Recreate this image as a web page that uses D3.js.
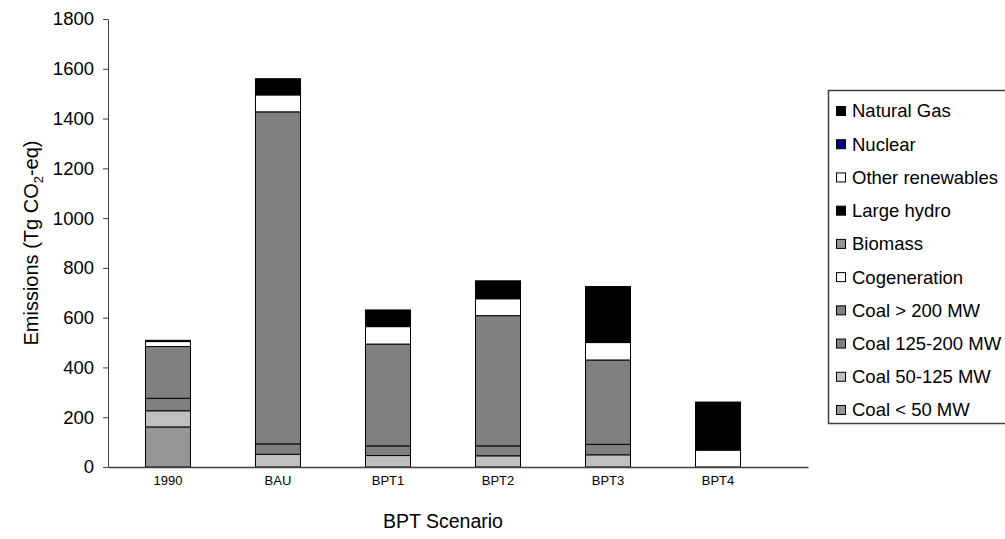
<!DOCTYPE html>
<html>
<head>
<meta charset="utf-8">
<script src="https://cdn.jsdelivr.net/npm/d3@7"></script>
<style>
  html, body { margin: 0; padding: 0; background: #fff; }
  svg { display: block; font-family: "Liberation Sans", Arial, sans-serif; }
</style>
</head>
<body>
<svg id="chart" width="1005" height="539"></svg>
<script>
// Scenario categories along the x axis
const categories = ["1990", "BAU", "BPT1", "BPT2", "BPT3", "BPT4"];

// Emissions by source (Tg CO2-eq), one value per scenario
const coalUnder50     = [161, 0, 0, 0, 0, 0];
const coal50to125     = [65, 51, 46, 45, 49, 0];
const coal125to200    = [50, 42, 39, 40, 42, 0];
const coalOver200     = [208, 1334, 409, 523, 339, 0];
const cogeneration    = [20, 68, 70, 68, 70, 68];
const biomass         = [0, 0, 0, 0, 0, 0];
const largeHydro      = [0, 0, 0, 0, 0, 0];
const otherRenewables = [0, 0, 0, 0, 0, 0];
const nuclear         = [0, 0, 0, 0, 0, 0];
const naturalGas      = [5, 65, 67, 72, 225, 193];

const yTicks = [0, 200, 400, 600, 800, 1000, 1200, 1400, 1600, 1800];

// Series in stacking order (bottom to top)
const series = [
  { name: "Coal < 50 MW",     values: coalUnder50,     color: "#969696" },
  { name: "Coal 50-125 MW",   values: coal50to125,     color: "#c0c0c0" },
  { name: "Coal 125-200 MW",  values: coal125to200,    color: "#808080" },
  { name: "Coal > 200 MW",    values: coalOver200,     color: "#808080" },
  { name: "Cogeneration",     values: cogeneration,    color: "#ffffff" },
  { name: "Biomass",          values: biomass,         color: "#969696" },
  { name: "Large hydro",      values: largeHydro,      color: "#000000" },
  { name: "Other renewables", values: otherRenewables, color: "#ffffff" },
  { name: "Nuclear",          values: nuclear,         color: "#000080" },
  { name: "Natural Gas",      values: naturalGas,      color: "#000000" }
];

const table = categories.map((c, i) => {
  const row = { category: c };
  series.forEach(s => { row[s.name] = s.values[i]; });
  return row;
});

const svg = d3.select("#chart");
const FONT = "'Liberation Sans', Arial, sans-serif";

const x = d3.scaleBand()
  .domain(categories)
  .range([108, 808])
  .paddingInner(0.591)
  .paddingOuter(0.477)
  .align(0.357);

const y = d3.scaleLinear()
  .domain([0, 1800])
  .range([467, 19]);

const stack = d3.stack().keys(series.map(s => s.name));
const layers = stack(table);

// Stacked bars
const g = svg.append("g");
layers.forEach((layer, li) => {
  g.selectAll(null)
    .data(layer.filter(d => d[1] - d[0] > 0))
    .enter().append("rect")
    .attr("x", d => x(d.data.category))
    .attr("width", x.bandwidth())
    .attr("y", d => y(d[1]))
    .attr("height", d => y(d[0]) - y(d[1]))
    .attr("fill", series[li].color)
    .attr("stroke", "#000")
    .attr("stroke-width", 1);
});

// Y axis
const yAxis = d3.axisLeft(y).tickValues(yTicks).tickFormat(d3.format("d"))
  .tickSize(5).tickPadding(9).tickSizeOuter(0);
const yg = svg.append("g").attr("transform", "translate(108,0)").call(yAxis);
yg.select(".domain").attr("stroke", "#404040");
yg.selectAll(".tick line").attr("stroke", "#404040");
yg.selectAll(".tick text").attr("font-size", 18.5).attr("fill", "#000")
  .attr("font-family", FONT);

// X axis
const xAxis = d3.axisBottom(x).tickSize(0).tickPadding(9).tickSizeOuter(0);
const xg = svg.append("g").attr("transform", "translate(0,467)").call(xAxis);
xg.select(".domain").attr("stroke", "#404040").attr("stroke-width", 1.5);
xg.selectAll(".tick text").attr("font-size", 13).attr("fill", "#000")
  .attr("font-family", FONT);

// Axis titles
svg.append("text")
  .attr("x", (x(categories[0]) + x(categories[categories.length - 1]) + x.bandwidth()) / 2)
  .attr("y", 528)
  .attr("text-anchor", "middle")
  .attr("font-size", 19.5)
  .text("BPT Scenario");

const yTitle = svg.append("text")
  .attr("transform", `translate(38,${(y(0) + y(1800)) / 2}) rotate(-90)`)
  .attr("text-anchor", "middle")
  .attr("font-size", 20);
yTitle.append("tspan").text("Emissions (Tg CO");
yTitle.append("tspan").attr("font-size", 13).attr("dy", 5).text("2");
yTitle.append("tspan").attr("dy", -5).text("-eq)");

// Legend (top entry is the last series)
const legend = svg.append("g");
legend.append("rect")
  .attr("x", 828.5).attr("y", 90.5)
  .attr("width", 190).attr("height", 333)
  .attr("fill", "#fff").attr("stroke", "#404040").attr("stroke-width", 1.5);

const legendItems = series.slice().reverse();
const ly = d3.scalePoint().domain(legendItems.map(s => s.name)).range([111, 410]);
legendItems.forEach(s => {
  const cy = ly(s.name);
  legend.append("rect")
    .attr("x", 836.5).attr("y", cy - 4.5)
    .attr("width", 9).attr("height", 9)
    .attr("fill", s.color).attr("stroke", "#000").attr("stroke-width", 1);
  legend.append("text")
    .attr("x", 852).attr("y", cy)
    .attr("dy", "0.35em")
    .attr("font-size", 18.5)
    .text(s.name);
});
</script>
</body>
</html>
